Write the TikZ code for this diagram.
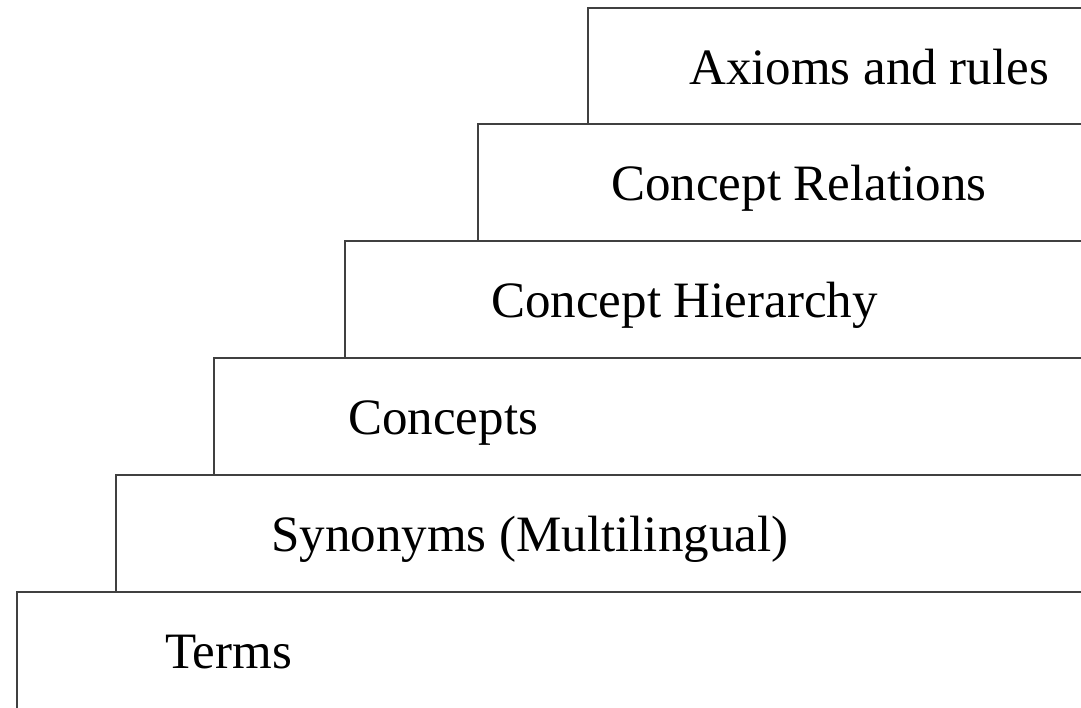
\documentclass[tikz,border=0pt]{standalone}
\usepackage{fontspec}
\setmainfont{Liberation Serif}
\begin{document}
\begin{tikzpicture}[x=1pt,y=-1pt,
  stepline/.style={draw=black!75,line width=2.4pt,line cap=rect},
  steplabel/.style={anchor=base west,inner sep=0pt,font=\fontsize{51}{61}\selectfont}]
\useasboundingbox (0,0) rectangle (1081,707);
% step corners
\coordinate (c1) at (588,8);
\coordinate (c2) at (478,124);
\coordinate (c3) at (345,241);
\coordinate (c4) at (214,358);
\coordinate (c5) at (116,475);
\coordinate (c6) at (17,592);
\coordinate (e1) at (1081,8);
\coordinate (e2) at (1081,124);
\coordinate (e3) at (1081,241);
\coordinate (e4) at (1081,358);
\coordinate (e5) at (1081,475);
\coordinate (e6) at (1081,592);
\coordinate (b6) at (17,707);
\draw[stepline] (e1) -- (c1) -- (c1 |- e2);
\draw[stepline] (e2) -- (c2) -- (c2 |- e3);
\draw[stepline] (e3) -- (c3) -- (c3 |- e4);
\draw[stepline] (e4) -- (c4) -- (c4 |- e5);
\draw[stepline] (e5) -- (c5) -- (c5 |- e6);
\draw[stepline] (e6) -- (c6) -- (b6);
% labels
\node[steplabel] (t1) at (689,84) {Axioms and rules};
\node[steplabel] (t2) at (611,200) {Concept Relations};
\node[steplabel] (t3) at (491,317) {Concept Hierarchy};
\node[steplabel] (t4) at (348,434) {Concepts};
\node[steplabel] (t5) at (271,551) {Synonyms (Multilingual)};
\node[steplabel] (t6) at (165,668) {Terms};
\end{tikzpicture}
\end{document}
